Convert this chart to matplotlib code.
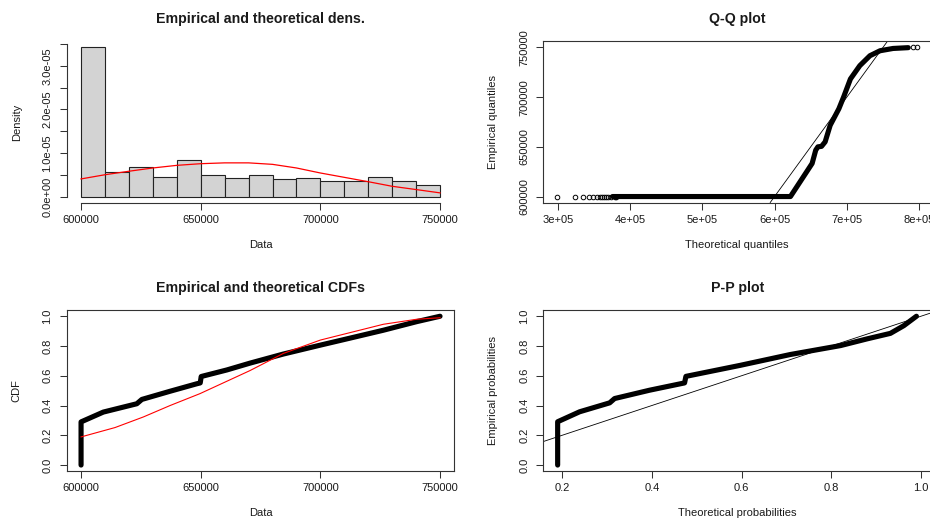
import matplotlib
matplotlib.use("Agg")
import matplotlib.pyplot as plt

plt.rcParams["font.family"] = ["Liberation Sans", "DejaVu Sans"]

# ---- histogram + fitted density (top-left) ----
bin_edges = [600000, 610000, 620000, 630000, 640000, 650000, 660000, 670000,
             680000, 690000, 700000, 710000, 720000, 730000, 740000, 750000]
hist_density = [3.418e-5, 5.55e-6, 6.69e-6, 4.50e-6, 8.38e-6, 4.95e-6, 4.27e-6,
                4.95e-6, 4.11e-6, 4.27e-6, 3.58e-6, 3.58e-6, 4.41e-6, 3.49e-6, 2.67e-6]
dens_x = [600000, 610000, 620000, 630000, 640000, 650000, 660000, 670000,
          680000, 690000, 700000, 710000, 720000, 730000, 740000, 750000]
dens_y = [4.04e-6, 5.0e-6, 5.8e-6, 6.55e-6, 7.15e-6, 7.53e-6, 7.72e-6, 7.72e-6,
          7.38e-6, 6.55e-6, 5.4e-6, 4.4e-6, 3.4e-6, 2.35e-6, 1.6e-6, 0.84e-6]

# ---- Q-Q (top-right) ----
qq_sparse_x = [2.995e5, 3.24e5, 3.35e5, 3.43e5, 3.49e5, 3.54e5, 3.58e5, 3.61e5,
               3.64e5, 3.67e5, 3.70e5, 3.73e5, 3.79e5, 3.80e5]
qq_sparse_y = [600000] * len(qq_sparse_x)
qq_top_x = [7.91e5, 7.965e5]
qq_top_y = [750000, 750000]
qq_x = [3.76e5, 6.22e5, 6.31e5, 6.43e5, 6.52e5, 6.57e5, 6.60e5, 6.65e5, 6.70e5, 6.77e5,
        6.89e5, 6.955e5, 7.05e5, 7.18e5, 7.32e5, 7.46e5, 7.64e5, 7.85e5]
qq_y = [600000, 600000, 610000, 623300, 633300, 646700, 650000, 650500, 655000, 671700,
        688300, 700000, 718300, 731700, 741700, 746700, 749000, 749800]

# ---- CDFs (bottom-left) ----
ecdf_x = [600000, 600000, 609300, 623300, 625400, 637200, 648300, 649800, 650200,
          660900, 670600, 684500, 700000, 712400, 726300, 740300, 750000]
ecdf_y = [0.0, 0.29, 0.356, 0.412, 0.441, 0.496, 0.546, 0.552, 0.595,
          0.639, 0.685, 0.746, 0.806, 0.853, 0.906, 0.964, 1.0]
tcdf_x = [600000, 614200, 626000, 637200, 649700, 670600, 684500, 700000,
          712400, 726300, 740300, 750000]
tcdf_y = [0.189, 0.252, 0.323, 0.40, 0.48, 0.635, 0.75, 0.84, 0.89, 0.946, 0.98, 0.99]

# ---- P-P (bottom-right) ----
pp_x = [0.19, 0.19, 0.239, 0.306, 0.317, 0.395, 0.473, 0.476, 0.597, 0.709,
        0.821, 0.88, 0.932, 0.962, 0.99]
pp_y = [0.0, 0.291, 0.358, 0.418, 0.447, 0.503, 0.552, 0.596, 0.67, 0.743,
        0.803, 0.848, 0.885, 0.937, 1.0]

TXT = "#1a1a1a"
EDGE = "#333333"
THICK = 3.7


def style(ax, box=True):
    ax.tick_params(direction="out", length=4.7, width=0.75, color=EDGE,
                   labelsize=8, labelcolor=TXT, pad=4)
    ax.tick_params(axis="y", pad=5.5)
    for s in ax.spines.values():
        s.set_color(EDGE)
        s.set_linewidth(0.8)
        s.set_visible(box)
    for lab in ax.get_yticklabels():
        lab.set_rotation(90)
        lab.set_va("center")


def labels(ax, title, xl, yl, tpos, xpos):
    ax.text(0.5, tpos, title, transform=ax.transAxes, ha="center", va="center",
            fontsize=10.2, fontweight="bold", color=TXT)
    ax.set_xlabel(xl, fontsize=8, color=TXT)
    ax.set_ylabel(yl, fontsize=8, color=TXT)
    ax.xaxis.set_label_coords(0.5, xpos)
    ax.xaxis.label.set_va("center")
    ax.yaxis.set_label_coords(-0.129, 0.5)
    ax.yaxis.label.set_va("center")


fig = plt.figure(figsize=(9.3, 5.2), dpi=100)
W, H = 930.0, 520.0
pw = 387.7 / W
ax1 = fig.add_axes([66.7 / W, 1 - 202.5 / H, pw, 161 / H])
ax2 = fig.add_axes([543.3 / W, 1 - 202.5 / H, pw, 161 / H])
ax3 = fig.add_axes([66.7 / W, 1 - 471 / H, pw, 160.7 / H])
ax4 = fig.add_axes([543.3 / W, 1 - 471 / H, pw, 160.7 / H])

# histogram
widths = [bin_edges[i + 1] - bin_edges[i] for i in range(len(hist_density))]
ax1.bar(bin_edges[:-1], hist_density, width=widths, align="edge",
        color="#d3d3d3", edgecolor="#222222", linewidth=0.8)
ax1.plot(dens_x, dens_y, color="red", lw=0.9)
ax1.set_xlim(594000, 756000)
top = max(hist_density)
ax1.set_ylim(-0.04 * top, 1.04 * top)
ax1.set_xticks([600000, 650000, 700000, 750000])
ax1.set_xticklabels(["600000", "650000", "700000", "750000"])
ax1.set_yticks([0, 5e-6, 1e-5, 1.5e-5, 2e-5, 2.5e-5, 3e-5, 3.5e-5])
ax1.set_yticklabels(["0.0e+00", "", "1.0e-05", "", "2.0e-05", "", "3.0e-05", ""])
style(ax1, box=False)
ax1.spines["left"].set_visible(True)
ax1.spines["bottom"].set_visible(True)
ax1.spines["left"].set_bounds(0, 3.5e-5)
ax1.spines["bottom"].set_bounds(600000, 750000)
labels(ax1, "Empirical and theoretical dens.", "Data", "Density", 1.14, -0.264)

# Q-Q
ax2.plot(qq_x, qq_y, color="black", lw=THICK, solid_capstyle="round",
         solid_joinstyle="round")
ax2.plot(qq_sparse_x, qq_sparse_y, "o", mfc="none", mec="black", ms=3.3, mew=0.7)
ax2.plot(qq_top_x, qq_top_y, "o", mfc="none", mec="black", ms=3.3, mew=0.7)
ax2.axline((6e5, 6e5), slope=1, color="black", lw=0.6)
ax2.set_xlim(2.8e5, 8.165e5)
ax2.set_ylim(594000, 756000)
ax2.set_xticks([3e5, 4e5, 5e5, 6e5, 7e5, 8e5])
ax2.set_xticklabels(["3e+05", "4e+05", "5e+05", "6e+05", "7e+05", "8e+05"])
ax2.set_yticks([600000, 650000, 700000, 750000])
ax2.set_yticklabels(["600000", "650000", "700000", "750000"])
style(ax2)
labels(ax2, "Q-Q plot", "Theoretical quantiles", "Empirical quantiles", 1.14, -0.264)

# CDFs
ax3.plot(ecdf_x, ecdf_y, color="black", lw=THICK, solid_capstyle="round",
         solid_joinstyle="round")
ax3.plot(tcdf_x, tcdf_y, color="red", lw=0.8)
ax3.set_xlim(594000, 756000)
ax3.set_ylim(-0.04, 1.04)
ax3.set_xticks([600000, 650000, 700000, 750000])
ax3.set_xticklabels(["600000", "650000", "700000", "750000"])
ax3.set_yticks([0, 0.2, 0.4, 0.6, 0.8, 1.0])
ax3.set_yticklabels(["0.0", "0.2", "0.4", "0.6", "0.8", "1.0"])
style(ax3)
labels(ax3, "Empirical and theoretical CDFs", "Data", "CDF", 1.141, -0.261)

# P-P
ax4.plot(pp_x, pp_y, color="black", lw=THICK, solid_capstyle="round",
         solid_joinstyle="round")
ax4.axline((0.5, 0.5), slope=1, color="black", lw=0.6)
ax4.set_xlim(0.158, 1.0225)
ax4.set_ylim(-0.04, 1.04)
ax4.set_xticks([0.2, 0.4, 0.6, 0.8, 1.0])
ax4.set_xticklabels(["0.2", "0.4", "0.6", "0.8", "1.0"])
ax4.set_yticks([0, 0.2, 0.4, 0.6, 0.8, 1.0])
ax4.set_yticklabels(["0.0", "0.2", "0.4", "0.6", "0.8", "1.0"])
style(ax4)
labels(ax4, "P-P plot", "Theoretical probabilities", "Empirical probabilities", 1.141, -0.261)

fig.savefig("out.png", dpi=100, facecolor="white")
